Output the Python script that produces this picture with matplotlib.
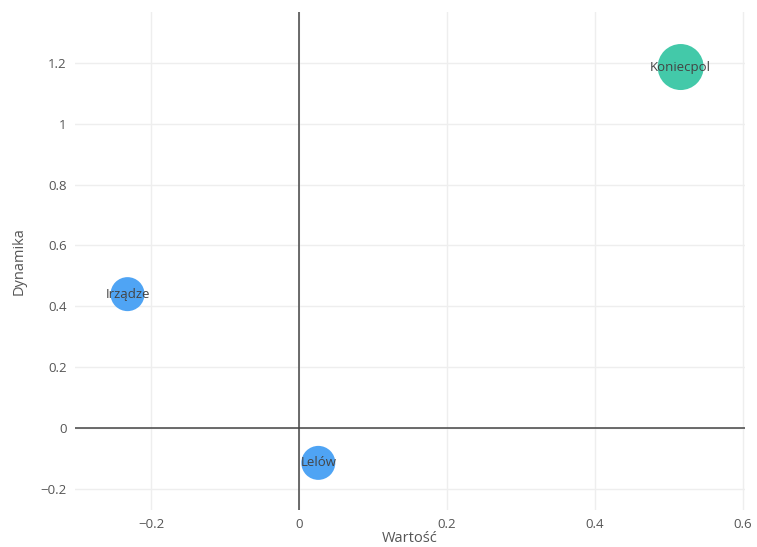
import matplotlib
matplotlib.use("Agg")
import matplotlib.pyplot as plt

names = ["Koniecpol", "Irządze", "Lelów"]
wartosc = [0.516, -0.232, 0.026]
dynamika = [1.187, 0.44, -0.115]
diam_px = [46, 34, 34]
colors = ["#43c9a9", "#4fa4f4", "#4fa4f4"]

xticks = [-0.2, 0, 0.2, 0.4, 0.6]
xticklabels = ["−0.2", "0", "0.2", "0.4", "0.6"]
yticks = [-0.2, 0, 0.2, 0.4, 0.6, 0.8, 1, 1.2]
yticklabels = ["−0.2", "0", "0.2", "0.4", "0.6", "0.8", "1", "1.2"]

plt.rcParams['font.family'] = ['Open Sans', 'DejaVu Sans']
fig = plt.figure(figsize=(7.57, 5.47), dpi=100)
ax = fig.add_axes([75/757, 37/547, 670/757, 498/547])

ax.set_xlim(-0.303, 0.603)
ax.set_ylim(-0.27, 1.368)

ax.set_xticks(xticks)
ax.set_xticklabels(xticklabels)
ax.set_yticks(yticks)
ax.set_yticklabels(yticklabels)
ax.grid(True, color="#eeeeee", linewidth=1)
ax.set_axisbelow(True)
for s in ax.spines.values():
    s.set_visible(False)
ax.tick_params(length=0, labelsize=9.5, labelcolor="#555555", pad=6)

ax.axhline(0, color="#444444", linewidth=1.1, zorder=1)
ax.axvline(0, color="#444444", linewidth=1.1, zorder=1)

sizes = [(d * 72 / 100) ** 2 for d in diam_px]
ax.scatter(wartosc, dynamika, s=sizes, c=colors, edgecolors="none", zorder=3)
for n, x, y in zip(names, wartosc, dynamika):
    ax.text(x, y, n, ha="center", va="center", fontsize=9.5, color="#444444", zorder=4)

ax.set_xlabel("Wartość", fontsize=10.5, color="#555555", labelpad=0)
ax.set_ylabel("Dynamika", fontsize=10.5, color="#555555", labelpad=10)

fig.savefig("out.png", dpi=100)
